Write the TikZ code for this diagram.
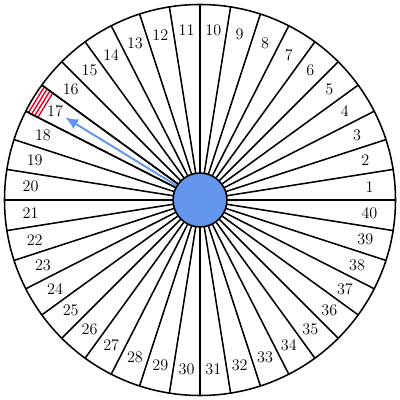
\documentclass[tikz,border=0pt]{standalone}
\usetikzlibrary{arrows.meta}
\definecolor{cblue}{RGB}{100,149,237}
\definecolor{hred}{RGB}{230,0,40}
\begin{document}
\begin{tikzpicture}[x=0.025cm,y=0.025cm,
  spoke/.style={black,line width=1.1pt},
  rim/.style={black,line width=1.1pt},
  hub/.style={circle,draw=black,fill=cblue,line width=1.1pt,minimum size=54*0.025cm,inner sep=0pt},
  lbl/.style={font=\fontsize{11.5}{13}\selectfont,inner sep=0pt},
  hatch/.style={hred,line width=1pt},
  pointer/.style={cblue,line width=1.4pt,-{Latex[length=0.32cm,width=0.28cm]}}]
\useasboundingbox (-200,-200) rectangle (200,200);
\coordinate (c) at (0,0);
\foreach \k in {0,...,39}{
  \coordinate (s\k) at ({\k*9}:195.5);
  \draw[spoke] (c) -- (s\k);
}
\foreach \r [count=\n] in {192.5,189,185.5,182}{
  \coordinate (ha\n) at (144:\r);
  \coordinate (hb\n) at (153:\r);
  \draw[hatch] (ha\n) -- (hb\n);
}
\draw[spoke] (c) -- (s16);
\draw[spoke] (c) -- (s17);
\draw[rim] (c) circle (195.5);
\coordinate (tip) at (148.5:158);
\draw[pointer] (c) -- (tip);
\node[hub] (h) at (c) {};
\foreach \i in {1,...,40}{
  \node[lbl] (l\i) at ({(\i-0.5)*9}:170) {\i};
}
\end{tikzpicture}
\end{document}
